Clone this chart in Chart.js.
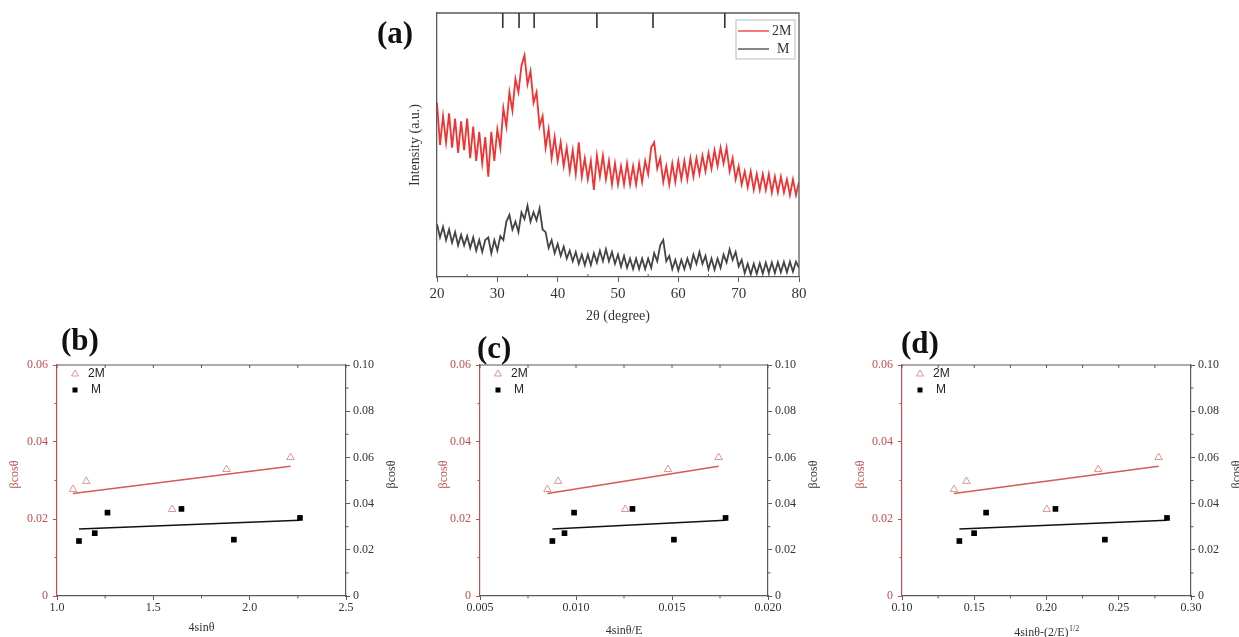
<!DOCTYPE html>
<html>
<head>
<meta charset="utf-8">
<script src="https://cdn.jsdelivr.net/npm/chart.js@4.4.0/dist/chart.umd.min.js"></script>
<style>
  body { margin: 0; background: #fff; width: 1239px; height: 637px; position: relative; overflow: hidden; }
  canvas { position: absolute; }
  .lbl { position: absolute; font: bold 31px "Liberation Serif", serif; line-height: 1; color: #111; }
</style>
</head>
<body>
<canvas id="xrd" width="420" height="326" style="left:395px;top:0px"></canvas>
<canvas id="panelB" width="400" height="307" style="left:0px;top:330px"></canvas>
<canvas id="panelC" width="395" height="307" style="left:430px;top:330px"></canvas>
<canvas id="panelD" width="394" height="307" style="left:845px;top:330px"></canvas>
<div class="lbl" style="left:377px;top:17px">(a)</div>
<div class="lbl" style="left:61px;top:324px">(b)</div>
<div class="lbl" style="left:477px;top:332px">(c)</div>
<div class="lbl" style="left:901px;top:327px">(d)</div>
<script>
// XRD patterns (a)
const twoTheta = [20,20.5,21,21.5,22,22.5,23,23.5,24,24.5,25,25.5,26,26.5,27,27.5,28,28.5,29,29.5,
  30,30.5,31,31.5,32,32.5,33,33.5,34,34.5,35,35.5,36,36.5,37,37.5,38,38.5,39,39.5,
  40,40.5,41,41.5,42,42.5,43,43.5,44,44.5,45,45.5,46,46.5,47,47.5,48,48.5,49,49.5,
  50,50.5,51,51.5,52,52.5,53,53.5,54,54.5,55,55.5,56,56.5,57,57.5,58,58.5,59,59.5,
  60,60.5,61,61.5,62,62.5,63,63.5,64,64.5,65,65.5,66,66.5,67,67.5,68,68.5,69,69.5,
  70,70.5,71,71.5,72,72.5,73,73.5,74,74.5,75,75.5,76,76.5,77,77.5,78,78.5,79,79.5,80];
const int2M = [66,50,61,51,62,49,60,47,59,48,
  60,45,57,44,55,43,53,38,55,44,
  56,49,64,57,70,63,75,70,80,84,
  73,78,66,70,57,61,49,56,45,53,
  44,51,42,49,40,48,39,51,38,45,
  37,44,33,46,38,46,37,44,35,43,
  35,42,35,43,35,42,35,43,36,44,
  39,49,51,41,45,36,42,35,43,36,
  44,37,44,37,45,38,45,39,46,40,
  47,41,48,42,49,43,49,40,45,37,
  42,35,40,34,40,33,39,33,39,33,
  39,32,38,32,38,32,37,31,37,31,36];
const intM = [20,15,19,14,18,13,17,12,16,12,
  15.5,11,15,10,14,9.5,14,15,9,14,
  10,15.5,14,21,23.5,18,21,17,24.5,22,
  27,21,24.5,21.5,26,18,17,11,14,9,
  12.5,8,11.5,7,10,6,9.5,5,8.5,4.5,
  8.5,4.5,9,5.5,10,6,10.5,6,9.5,5,
  8.5,4,8,3.5,7,3,7,3,7,3,
  7,3.5,9,6,12,14,6,8,3,6.5,
  2.5,6.5,3,7,3.5,8.5,5,9.5,5,8,
  3,7,2.8,7,3.5,8.5,5.5,10.5,6.5,9.5,
  4,6.5,1.5,5,1,5,1.2,5.2,1.3,5.4,
  1.6,5.5,1.5,5.6,1.8,5.7,1.8,5.8,2,5.8,3.5];
const refPeaks = [30.9, 33.6, 36.1, 46.5, 55.8, 67.7];
const xrdTicks = [20, 30, 40, 50, 60, 70, 80];
const xrdMinor = [25, 35, 45, 55, 65, 75];

// Williamson-Hall type plots (b), (c), (d)
const x4sin2M = [1.083, 1.152, 1.598, 1.880, 2.212];
const x4sinM = [1.114, 1.196, 1.262, 1.646, 1.918, 2.261];
const x4sinE2M = [0.00851, 0.00907, 0.01256, 0.01479, 0.01743];
const x4sinEM = [0.00877, 0.00940, 0.00990, 0.01294, 0.01510, 0.01779];
const x4sinRt2M = [0.1360, 0.1446, 0.2002, 0.2358, 0.2776];
const x4sinRtM = [0.1397, 0.1499, 0.1582, 0.2062, 0.2404, 0.2834];
const bcos2M = [0.0277, 0.0298, 0.0225, 0.0329, 0.0360];
const bcosM = [0.0238, 0.0272, 0.0361, 0.0377, 0.0244, 0.0338];
// linear fit values at first and last point
const fit2M = [0.0266, 0.0337];
const fitM = [0.0290, 0.0328];

const leftTicks = [0, 0.02, 0.04, 0.06];
const leftMinor = [0.01, 0.03, 0.05];
const rightTicks = [0, 0.02, 0.04, 0.06, 0.08, 0.10];
const rightMinor = [0.01, 0.03, 0.05, 0.07, 0.09];
const xTicksB = [1.0, 1.5, 2.0, 2.5];
const xMinorB = [1.25, 1.75, 2.25];
const xTicksC = [0.005, 0.010, 0.015, 0.020];
const xMinorC = [0.0075, 0.0125, 0.0175];
const xTicksD = [0.10, 0.15, 0.20, 0.25, 0.30];
const xMinorD = [0.125, 0.175, 0.225, 0.275];

Chart.defaults.font.family = '"Liberation Serif", serif';
const axisGrey = '#5a5a5a';
const axisRed = '#c0504d';
const serif = '"Liberation Serif", serif';

function pts(xs, ys) { return xs.map((x, i) => ({ x: x, y: ys[i] })); }
function fitLine(xs, ends) { return [{ x: xs[0], y: ends[0] }, { x: xs[xs.length - 1], y: ends[1] }]; }
function yFmt(v) { return v === 0 ? '0' : v.toFixed(2); }

function vText(ctx, text, x, y, color) {
  ctx.save();
  ctx.translate(x, y);
  ctx.rotate(-Math.PI / 2);
  ctx.fillStyle = color;
  ctx.textAlign = 'center';
  ctx.textBaseline = 'middle';
  ctx.fillText(text, 0, 0);
  ctx.restore();
}

// frame, reference marks, legend and titles for (a)
const xrdDeco = {
  id: 'xrdDeco',
  afterDraw(chart) {
    const { ctx, chartArea: a, scales: { x } } = chart;
    ctx.save();
    ctx.strokeStyle = axisGrey;
    ctx.lineWidth = 1.3;
    ctx.beginPath();
    ctx.moveTo(a.left, a.top); ctx.lineTo(a.right, a.top); ctx.lineTo(a.right, a.bottom);
    ctx.stroke();
    ctx.lineWidth = 1;
    ctx.beginPath();
    xrdMinor.forEach(v => { const px = x.getPixelForValue(v); ctx.moveTo(px, a.bottom); ctx.lineTo(px, a.bottom - 3); });
    ctx.stroke();
    // reference peak positions
    ctx.strokeStyle = '#333';
    ctx.lineWidth = 1.6;
    ctx.beginPath();
    refPeaks.forEach(v => { const px = x.getPixelForValue(v); ctx.moveTo(px, a.top); ctx.lineTo(px, a.top + 15); });
    ctx.stroke();
    // legend
    const bx = a.right - 63, by = a.top + 7;
    ctx.strokeStyle = '#bbb';
    ctx.lineWidth = 1;
    ctx.strokeRect(bx, by, 59, 39);
    ctx.lineWidth = 1.3;
    ctx.strokeStyle = '#ee3333';
    ctx.beginPath(); ctx.moveTo(bx + 2, by + 11); ctx.lineTo(bx + 33, by + 11); ctx.stroke();
    ctx.strokeStyle = '#444';
    ctx.beginPath(); ctx.moveTo(bx + 2, by + 29); ctx.lineTo(bx + 33, by + 29); ctx.stroke();
    ctx.font = '14px ' + serif;
    ctx.fillStyle = '#333';
    ctx.textBaseline = 'middle';
    ctx.fillText('2M', bx + 36, by + 11);
    ctx.fillText('M', bx + 41, by + 29);
    // titles
    ctx.font = '14px ' + serif;
    ctx.textAlign = 'center';
    ctx.fillText('2\u03b8 (degree)', (a.left + a.right) / 2, a.bottom + 39);
    vText(ctx, 'Intensity (a.u.)', a.left - 22, (a.top + a.bottom) / 2, '#333');
    ctx.restore();
  }
};

new Chart(document.getElementById('xrd'), {
  type: 'line',
  data: {
    datasets: [
      { label: '2M', data: pts(twoTheta, int2M), borderColor: '#ee3333', borderWidth: 1.8, pointRadius: 0, tension: 0 },
      { label: 'M', data: pts(twoTheta, intM), borderColor: '#444444', borderWidth: 1.8, pointRadius: 0, tension: 0 }
    ]
  },
  options: {
    responsive: false, devicePixelRatio: 1, animation: false,
    layout: { padding: { top: 13, right: 16, left: 0, bottom: 0 } },
    plugins: { legend: { display: false }, tooltip: { enabled: false } },
    scales: {
      x: {
        type: 'linear', min: 20, max: 80,
        afterBuildTicks: s => { s.ticks = xrdTicks.map(v => ({ value: v })); },
        afterFit: s => { s.height = 49; },
        grid: { drawOnChartArea: false, tickLength: 5, color: axisGrey },
        border: { color: axisGrey, width: 1.3 },
        ticks: { padding: 3, color: '#333', font: { size: 15 } }
      },
      y: {
        min: 0, max: 100,
        afterFit: s => { s.width = 42; },
        grid: { drawOnChartArea: false, drawTicks: false },
        border: { color: axisGrey, width: 1.3 },
        ticks: { display: false }
      }
    }
  },
  plugins: [xrdDeco]
});

// frame, minor ticks, legend and titles for (b)-(d)
const whDeco = {
  id: 'whDeco',
  afterDraw(chart, args, o) {
    const { ctx, chartArea: a, scales: { x, y, y1 } } = chart;
    ctx.save();
    ctx.strokeStyle = axisGrey;
    ctx.lineWidth = 1.2;
    ctx.beginPath(); ctx.moveTo(a.left, a.top); ctx.lineTo(a.right, a.top); ctx.stroke();
    ctx.lineWidth = 1;
    ctx.beginPath();
    o.xTicks.concat(o.xMinor).forEach(v => { const px = x.getPixelForValue(v); ctx.moveTo(px, a.top); ctx.lineTo(px, a.top + 3); });
    o.xMinor.forEach(v => { const px = x.getPixelForValue(v); ctx.moveTo(px, a.bottom); ctx.lineTo(px, a.bottom + 2.5); });
    rightMinor.forEach(v => { const py = y1.getPixelForValue(v); ctx.moveTo(a.right, py); ctx.lineTo(a.right + 2.5, py); });
    ctx.stroke();
    ctx.strokeStyle = axisRed;
    ctx.beginPath();
    leftMinor.forEach(v => { const py = y.getPixelForValue(v); ctx.moveTo(a.left, py); ctx.lineTo(a.left - 2.5, py); });
    ctx.stroke();
    // legend
    const lx = a.left + 18;
    ctx.strokeStyle = '#e39393';
    ctx.lineWidth = 1;
    ctx.beginPath();
    ctx.moveTo(lx, a.top + 5); ctx.lineTo(lx + 3.5, a.top + 11); ctx.lineTo(lx - 3.5, a.top + 11); ctx.closePath();
    ctx.stroke();
    ctx.fillStyle = '#000';
    ctx.fillRect(lx - 2.5, a.top + 22.5, 5, 5);
    ctx.font = '12px "Liberation Sans", Arial, sans-serif';
    ctx.fillStyle = '#222';
    ctx.textBaseline = 'middle';
    ctx.fillText('2M', a.left + 31, a.top + 9);
    ctx.fillText('M', a.left + 34, a.top + 25);
    // axis titles
    const cy = (a.top + a.bottom) / 2 - 6;
    ctx.font = '12px ' + serif;
    vText(ctx, '\u03b2cos\u03b8', a.left - o.leftOff, cy, axisRed);
    vText(ctx, '\u03b2cos\u03b8', a.right + 46, cy, '#333');
    ctx.fillStyle = '#333';
    ctx.textBaseline = 'alphabetic';
    const mid = (a.left + a.right) / 2;
    if (o.sup) {
      ctx.font = '12px ' + serif;
      const w1 = ctx.measureText(o.xTitle).width;
      ctx.font = '8px ' + serif;
      const w2 = ctx.measureText(o.sup).width;
      const sx = mid - (w1 + w2) / 2;
      ctx.textAlign = 'left';
      ctx.font = '12px ' + serif;
      ctx.fillText(o.xTitle, sx, a.bottom + o.titleDy);
      ctx.font = '8px ' + serif;
      ctx.fillText(o.sup, sx + w1 + 0.5, a.bottom + o.titleDy - 5);
    } else {
      ctx.textAlign = 'center';
      ctx.fillText(o.xTitle, mid, a.bottom + o.titleDy);
    }
    ctx.restore();
  }
};

function whPanel(id, c) {
  return new Chart(document.getElementById(id), {
    type: 'scatter',
    data: {
      datasets: [
        { label: '2M', data: pts(c.x2M, bcos2M), yAxisID: 'y', pointStyle: 'triangle', pointRadius: 4.3,
          borderColor: '#e39393', backgroundColor: 'rgba(0,0,0,0)', borderWidth: 1 },
        { label: 'M', data: pts(c.xM, bcosM), yAxisID: 'y1', pointStyle: 'rect', pointRadius: 4,
          borderColor: '#000', backgroundColor: '#000', borderWidth: 0 },
        { label: '2M fit', type: 'line', data: fitLine(c.x2M, fit2M), yAxisID: 'y',
          borderColor: '#d65a55', borderWidth: 1.5, pointRadius: 0 },
        { label: 'M fit', type: 'line', data: fitLine(c.xM, fitM), yAxisID: 'y1',
          borderColor: '#111', borderWidth: 1.5, pointRadius: 0 }
      ]
    },
    options: {
      responsive: false, devicePixelRatio: 1, animation: false,
      layout: { padding: { top: 35, left: 0, right: 0, bottom: 0 } },
      plugins: { legend: { display: false }, tooltip: { enabled: false }, whDeco: c },
      scales: {
        x: {
          type: 'linear', min: c.xTicks[0], max: c.xTicks[c.xTicks.length - 1],
          afterBuildTicks: s => { s.ticks = c.xTicks.map(v => ({ value: v })); },
          afterFit: s => { s.height = 41; },
          grid: { drawOnChartArea: false, tickLength: 4, color: axisGrey },
          border: { color: axisGrey, width: 1.2 },
          ticks: { padding: 1, color: '#333', font: { size: 12 }, callback: v => v.toFixed(c.xDec) }
        },
        y: {
          position: 'left', min: 0, max: 0.06,
          afterBuildTicks: s => { s.ticks = leftTicks.map(v => ({ value: v })); },
          afterFit: s => { s.width = c.padL; },
          grid: { drawOnChartArea: false, tickLength: 4, color: axisRed },
          border: { color: axisRed, width: 1.2 },
          ticks: { padding: 5, color: axisRed, font: { size: 12 }, callback: yFmt }
        },
        y1: {
          position: 'right', min: 0, max: 0.10,
          afterBuildTicks: s => { s.ticks = rightTicks.map(v => ({ value: v })); },
          afterFit: s => { s.width = c.padR; },
          grid: { drawOnChartArea: false, tickLength: 4, color: axisGrey },
          border: { color: axisGrey, width: 1.2 },
          ticks: { padding: 3, color: '#333', font: { size: 12 }, callback: yFmt }
        }
      }
    },
    plugins: [whDeco]
  });
}

whPanel('panelB', { x2M: x4sin2M, xM: x4sinM, xTicks: xTicksB, xMinor: xMinorB, xDec: 1,
  padL: 57, padR: 54, leftOff: 42, xTitle: '4sin\u03b8', titleDy: 35 });
whPanel('panelC', { x2M: x4sinE2M, xM: x4sinEM, xTicks: xTicksC, xMinor: xMinorC, xDec: 3,
  padL: 50, padR: 57, leftOff: 36, xTitle: '4sin\u03b8/E', titleDy: 38 });
whPanel('panelD', { x2M: x4sinRt2M, xM: x4sinRtM, xTicks: xTicksD, xMinor: xMinorD, xDec: 2,
  padL: 57, padR: 48, leftOff: 41, xTitle: '4sin\u03b8-(2/E)', sup: '1/2', titleDy: 40 });
</script>
</body>
</html>
